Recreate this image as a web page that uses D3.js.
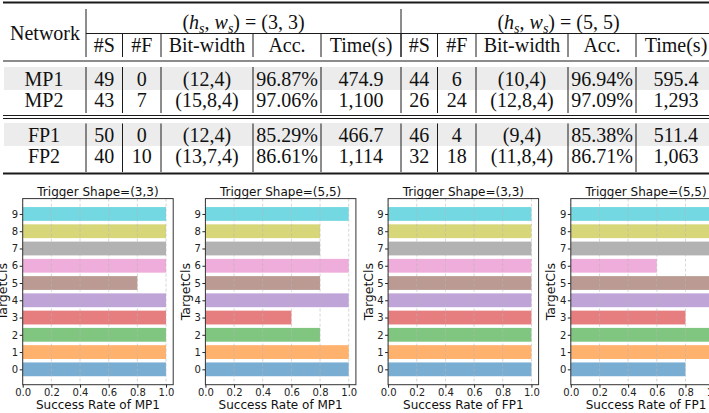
<!DOCTYPE html>
<html>
<head>
<meta charset="utf-8">
<script src="https://cdn.jsdelivr.net/npm/d3@7/dist/d3.min.js"></script>
<style>
body { margin: 0; background: #fff; }
</style>
</head>
<body>
<svg id="fig" width="709" height="413"></svg>
<script>
// ---- table values ----
var networks = ["MP1", "MP2", "FP1", "FP2"];
var triggerShapes = ["(3, 3)", "(5, 5)"];
var colNames = ["#S", "#F", "Bit-width", "Acc.", "Time(s)"];
var shape33 = [
	[49, 0, "(12,4)", "96.87%", "474.9"],
	[43, 7, "(15,8,4)", "97.06%", "1,100"],
	[50, 0, "(12,4)", "85.29%", "466.7"],
	[40, 10, "(13,7,4)", "86.61%", "1,114"]
];
var shape55 = [
	[44, 6, "(10,4)", "96.94%", "595.4"],
	[26, 24, "(12,8,4)", "97.09%", "1,293"],
	[46, 4, "(9,4)", "85.38%", "511.4"],
	[32, 18, "(11,8,4)", "86.71%", "1,063"]
];

// ---- bar chart values ----
var targetCls = [0, 1, 2, 3, 4, 5, 6, 7, 8, 9];
var rateMP1_33 = [1.0, 1.0, 1.0, 1.0, 1.0, 0.8, 1.0, 1.0, 1.0, 1.0];
var rateMP1_55 = [1.0, 1.0, 0.8, 0.6, 1.0, 0.8, 1.0, 0.8, 0.8, 1.0];
var rateFP1_33 = [1.0, 1.0, 1.0, 1.0, 1.0, 1.0, 1.0, 1.0, 1.0, 1.0];
var rateFP1_55 = [0.8, 1.0, 1.0, 0.8, 1.0, 1.0, 0.6, 1.0, 1.0, 1.0];
var xTicks = [0.0, 0.2, 0.4, 0.6, 0.8, 1.0];
var panelTitles = ["Trigger Shape=(3,3)", "Trigger Shape=(5,5)", "Trigger Shape=(3,3)", "Trigger Shape=(5,5)"];
var panelXLabels = ["Success Rate of MP1", "Success Rate of MP1", "Success Rate of FP1", "Success Rate of FP1"];
var panelRates = [rateMP1_33, rateMP1_55, rateFP1_33, rateFP1_55];

var svg = d3.select("#fig");
var serif = "'Liberation Serif', 'DejaVu Serif', serif";
var sans = "'DejaVu Sans', sans-serif";

/* ================= table ================= */
var tbl = svg.append("g");
var colEdges = [86, 122.5, 161, 253, 321, 401];  // first group, second is shifted by groupW
var groupW = 315;
var rowY = [79.5, 100, 135, 156];
var fs = 20;

// shaded rows
[[67, 23], [123, 23]].forEach(function(s) {
	tbl.append("rect").attr("x", 4).attr("y", s[0]).attr("width", 709).attr("height", s[1]).attr("fill", "#ececec");
});

function hline(y, x0, w) {
	tbl.append("line").attr("x1", x0).attr("x2", 709).attr("y1", y).attr("y2", y)
		.attr("stroke", "#1a1a1a").attr("stroke-width", w);
}
hline(2.5, 3, 2);
hline(33.5, 86, 1);
hline(61, 3, 1.2);
hline(115.5, 3, 1);
hline(118.5, 3, 1);
hline(173.5, 3, 2);

function vline(x, y1, y2) {
	tbl.append("line").attr("x1", x).attr("x2", x).attr("y1", y1).attr("y2", y2)
		.attr("stroke", "#1a1a1a").attr("stroke-width", 1);
}
// header verticals
vline(86, 9, 57);
vline(401, 9, 57);
[0, 1].forEach(function(g) {
	colEdges.slice(1).forEach(function(e) { vline(e + g * groupW, 34, 57); });
});
// body verticals
[[67, 113], [123.5, 172]].forEach(function(b) {
	vline(86, b[0], b[1]);
	[0, 1].forEach(function(g) {
		colEdges.slice(1).forEach(function(e) { vline(e + g * groupW, b[0], b[1]); });
	});
});

function cellText(x, y, s) {
	return tbl.append("text").attr("x", x).attr("y", y).attr("dy", "0.34em")
		.attr("text-anchor", "middle").attr("font-family", serif).attr("font-size", fs)
		.attr("fill", "#111").text(s);
}

cellText(45, 33, "Network");

// group headers (h_s, w_s) = (..)
triggerShapes.forEach(function(sh, g) {
	var cx = (colEdges[0] + colEdges[5]) / 2 + g * groupW;
	var t = tbl.append("text").attr("x", cx).attr("y", 22).attr("dy", "0.34em")
		.attr("text-anchor", "middle").attr("font-family", serif).attr("font-size", fs).attr("fill", "#111");
	t.append("tspan").text("(");
	t.append("tspan").attr("font-style", "italic").text("h");
	t.append("tspan").attr("font-size", 14).attr("font-style", "italic").attr("dy", 4).text("s");
	t.append("tspan").attr("dy", -4).text(", ");
	t.append("tspan").attr("font-style", "italic").text("w");
	t.append("tspan").attr("font-size", 14).attr("font-style", "italic").attr("dy", 4).text("s");
	t.append("tspan").attr("dy", -4).text(") = " + sh);
});

// column headers
[0, 1].forEach(function(g) {
	colNames.forEach(function(c, i) {
		var cx = (colEdges[i] + colEdges[i + 1]) / 2 + g * groupW;
		cellText(cx, 45, c);
	});
});

// body rows
networks.forEach(function(n, r) {
	cellText(44, rowY[r], n);
	[shape33[r], shape55[r]].forEach(function(vals, g) {
		vals.forEach(function(v, i) {
			var cx = (colEdges[i] + colEdges[i + 1]) / 2 + g * groupW;
			cellText(cx, rowY[r], v);
		});
	});
});

/* ================= bar charts ================= */
var tab10 = d3.schemeCategory10;
var pTop = 198.6, pBot = 384.7, pW = 150.5;

panelRates.forEach(function(rates, p) {
	var left = 22.7 + p * 182.7;
	var g = svg.append("g");

	var x = d3.scaleLinear().domain([0, 1.05]).range([left, left + pW]);
	var y = d3.scaleLinear().domain([-0.89, 9.89]).range([pBot, pTop]);

	g.selectAll("rect.bar").data(targetCls).enter().append("rect")
		.attr("class", "bar")
		.attr("x", x(0))
		.attr("y", function(d) { return y(d + 0.4); })
		.attr("width", function(d) { return x(rates[d]) - x(0); })
		.attr("height", function(d) { return y(d - 0.4) - y(d + 0.4); })
		.attr("fill", function(d) { return tab10[d]; })
		.attr("fill-opacity", 0.6);

	// dashed x grid on top of bars
	g.selectAll("line.grid").data(xTicks).enter().append("line")
		.attr("x1", function(d) { return x(d); }).attr("x2", function(d) { return x(d); })
		.attr("y1", pTop).attr("y2", pBot)
		.attr("stroke", "#b8b8b8").attr("stroke-width", 0.8)
		.attr("stroke-dasharray", "3,2").attr("opacity", 0.7);

	var xa = g.append("g").attr("transform", "translate(0," + pBot + ")")
		.call(d3.axisBottom(x).tickValues(xTicks).tickFormat(d3.format(".1f")).tickSize(3).tickPadding(1.5));
	var ya = g.append("g").attr("transform", "translate(" + left + ",0)")
		.call(d3.axisLeft(y).tickValues(targetCls).tickSize(3).tickPadding(1.5));
	[xa, ya].forEach(function(a) {
		a.select(".domain").remove();
		a.selectAll("text").attr("font-family", sans).attr("font-size", 10).attr("fill", "#222");
		a.selectAll("line").attr("stroke", "#222");
	});

	g.append("rect").attr("x", left).attr("y", pTop).attr("width", pW).attr("height", pBot - pTop)
		.attr("fill", "none").attr("stroke", "#333").attr("stroke-width", 1);

	g.append("text").attr("x", left + pW / 2).attr("y", 196.3).attr("text-anchor", "middle")
		.attr("font-family", sans).attr("font-size", 12).attr("fill", "#111").text(panelTitles[p]);
	g.append("text").attr("x", left + pW / 2).attr("y", 408.5).attr("text-anchor", "middle")
		.attr("font-family", sans).attr("font-size", 12).attr("fill", "#111").text(panelXLabels[p]);
	g.append("text").attr("transform", "translate(" + (left - 15.5) + "," + ((pTop + pBot) / 2) + ") rotate(-90)")
		.attr("text-anchor", "middle").attr("font-family", sans).attr("font-size", 12.5)
		.attr("fill", "#111").text("TargetCls");
});
</script>
</body>
</html>
